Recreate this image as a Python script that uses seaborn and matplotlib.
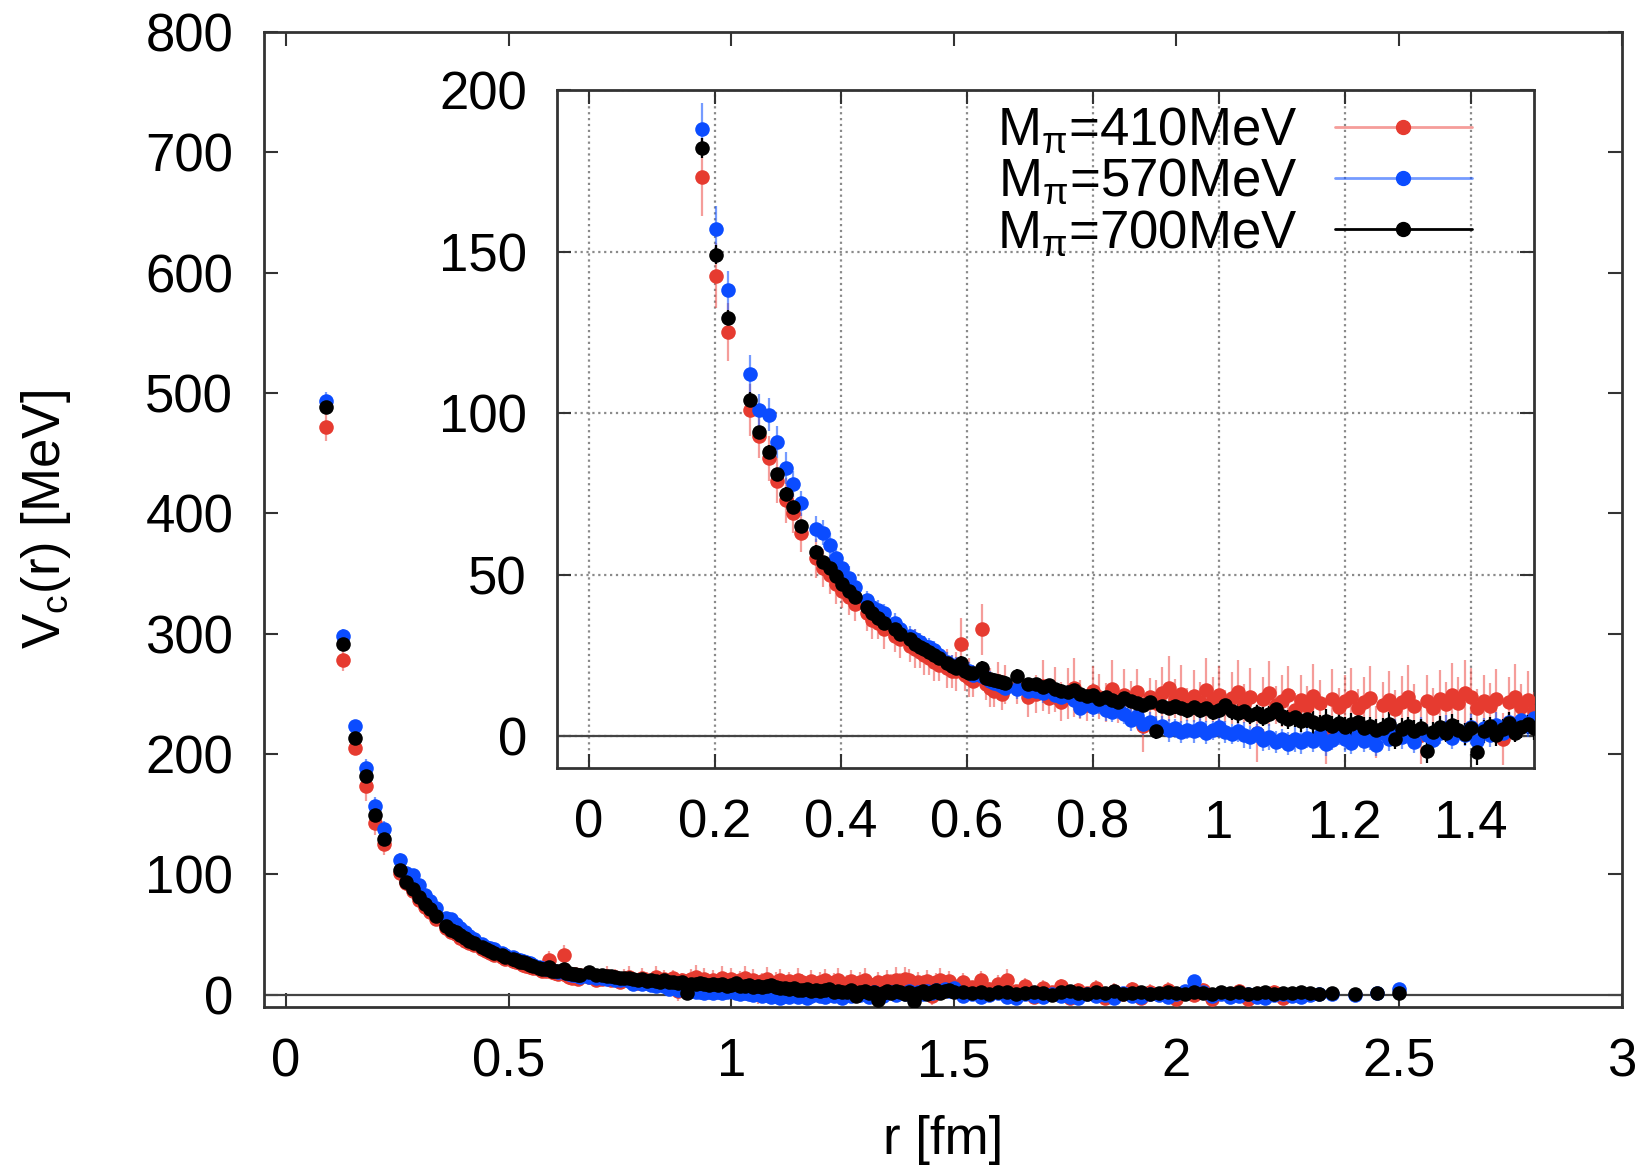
import matplotlib
matplotlib.use("Agg")
import matplotlib.pyplot as plt
import pandas as pd
import seaborn as sns
from matplotlib.lines import Line2D

# lattice distances r [fm] (short range part, shared by the three ensembles)
HEAD_R = [0.090, 0.127, 0.156, 0.180, 0.201, 0.220, 0.255, 0.270, 0.285, 0.298,
          0.312, 0.324, 0.337, 0.360, 0.371, 0.382, 0.392, 0.402, 0.412, 0.422,
          0.441, 0.450, 0.459, 0.468, 0.485, 0.493, 0.509, 0.517, 0.525, 0.532,
          0.540, 0.547, 0.555, 0.569, 0.576, 0.583, 0.590, 0.597, 0.604, 0.610,
          0.624, 0.630, 0.636, 0.643, 0.649, 0.655, 0.661, 0.680, 0.697]

# long range part
TAIL_R = [0.71, 0.72, 0.73, 0.74, 0.75, 0.76, 0.77, 0.78, 0.79, 0.80,
          0.81, 0.82, 0.83, 0.84, 0.85, 0.86, 0.87, 0.88, 0.89, 0.90,
          0.91, 0.92, 0.93, 0.94, 0.95, 0.96, 0.97, 0.98, 0.99, 1.00,
          1.01, 1.02, 1.03, 1.04, 1.05, 1.06, 1.07, 1.08, 1.09, 1.10,
          1.11, 1.12, 1.13, 1.14, 1.15, 1.16, 1.17, 1.18, 1.19, 1.20,
          1.21, 1.22, 1.23, 1.24, 1.25, 1.26, 1.27, 1.28, 1.29, 1.30,
          1.31, 1.32, 1.33, 1.34, 1.35, 1.36, 1.37, 1.38, 1.39, 1.40,
          1.41, 1.42, 1.43, 1.44, 1.45, 1.46, 1.47, 1.48, 1.49, 1.50,
          1.52, 1.54, 1.56, 1.58, 1.60, 1.62, 1.64, 1.66, 1.68, 1.70,
          1.72, 1.74, 1.76, 1.78, 1.80, 1.82, 1.84, 1.86, 1.88, 1.90,
          1.92, 1.94, 1.96, 1.98, 2.00, 2.02, 2.04, 2.06, 2.08, 2.10,
          2.12, 2.14, 2.16, 2.18, 2.20, 2.22, 2.24, 2.26, 2.28, 2.30,
          2.32, 2.35, 2.40, 2.45, 2.50]

# M_pi = 700 MeV (black)
V700_HEAD = [488, 291, 213, 182, 149, 129.5, 104, 94, 88, 81,
             75, 71, 65, 57, 54, 52, 49.5, 47, 45, 43,
             40, 38, 36.5, 35, 33, 31.5, 30, 28.5, 27.5, 26.8,
             26, 25, 24, 22.5, 21.7, 21, 22.7, 20, 19.5, 19.6,
             21.2, 18, 17.6, 17.2, 17, 16.7, 16.5, 18.6, 16]
E700_HEAD = [5, 4, 3, 3, 3, 2.5, 2.5, 2, 2, 2,
             2, 2, 2, 2, 1.5, 1.5, 1.5, 1.5, 1.5, 1.5,
             1.5, 1.5, 1.5, 1.5, 1.5, 1.5, 1.5, 1.5, 1.5, 1.5,
             1.5, 1.5, 1.5, 1.5, 1.5, 1.5, 2, 1.5, 1.5, 1.5,
             2, 1.5, 1.5, 1.5, 1.5, 1.5, 1.5, 2, 1.5]
V700_TAIL = [16.0, 15.2, 15.8, 14.6, 14.0, 13.5, 14.2, 13.0, 12.4, 12.8,
             11.6, 12.0, 11.2, 10.5, 11.8, 10.8, 10.2, 9.6, 10.4, 1.5,
             9.2, 8.6, 9.4, 8.8, 8.2, 9.0, 8.0, 8.6, 7.4, 8.2,
             9.5, 7.6, 7.0, 7.8, 6.6, 7.2, 6.0, 6.8, 8.4, 6.2,
             5.2, 5.8, 4.6, 5.4, 4.2, 3.6, 4.8, 3.2, 4.0, 2.8,
             3.6, 4.4, 2.4, 3.0, 1.8, 2.6, 3.8, -1.0, 2.2, 3.0,
             1.6, 2.4, -4.5, 1.2, 2.8, 1.0, 3.4, 2.0, 0.6, 2.6,
             -5.0, 1.4, 3.0, 0.4, 2.2, 4.0, 1.0, 2.8, 3.6, 2.4,
             2.0, 1.2, 2.6, 0.8, 1.8, 2.4, 0.4, 1.6, 2.2, 1.0,
             -0.6, 1.8, 2.8, 1.2, 0.6, 2.0, 1.4, 3.0, 0.8, 1.6,
             2.4, 0.2, 1.2, 2.0, 1.6, 0.6, 2.6, 1.4, 0.8, 2.0,
             1.0, 1.8, 0.4, 1.4, 2.2, 0.8, 1.6, 1.0, 2.0, 1.2,
             0.6, 1.4, 0.8, 1.2, 1.6]
E700_TAIL = [1.5, 1.5, 2.0, 1.5, 2.0, 1.5, 2.0, 1.5, 2.0, 2.0,
             2.0, 2.0, 2.0, 2.0, 2.0, 2.0, 2.0, 2.0, 2.0, 2.5,
             2.0, 2.0, 2.5, 2.0, 2.5, 2.0, 2.5, 2.0, 2.5, 2.5,
             2.5, 2.5, 3.0, 2.5, 3.0, 2.5, 3.0, 2.5, 3.0, 3.0,
             3.0, 3.0, 3.5, 3.0, 3.5, 3.0, 3.5, 3.0, 3.5, 3.0,
             3.5, 3.0, 3.5, 3.0, 3.5, 3.0, 3.5, 3.0, 3.5, 3.0,
             3.5, 3.0, 4.0, 3.0, 3.5, 3.0, 3.5, 3.0, 3.5, 3.0,
             4.0, 3.5, 3.0, 3.5, 3.0, 3.5, 3.0, 3.5, 3.0, 3.5,
             3.0, 3.5, 3.0, 3.5, 3.0, 3.5, 3.0, 3.5, 3.0, 3.5,
             3.0, 3.5, 3.0, 3.5, 3.0, 3.5, 3.0, 3.5, 3.0, 3.5,
             3.0, 3.5, 3.0, 3.5, 3.0, 3.5, 3.0, 3.5, 3.0, 3.5,
             3.0, 3.5, 3.0, 3.5, 3.0, 3.5, 3.0, 3.5, 3.0, 3.5,
             3.0, 2.5, 2.5, 3.0, 3.0]

# M_pi = 570 MeV (blue)
V570_HEAD = [493, 298, 223, 188, 157, 138, 112, 101, 99.5, 91,
             83, 78, 72, 64, 63, 59, 55, 52, 49, 46,
             42, 40, 39, 38, 35, 33, 31, 30, 29, 28,
             27.5, 26.5, 25, 23, 22, 21.5, 21, 20.5, 20, 19,
             18.5, 18, 17, 16.5, 16, 15.5, 15, 14.5, 14]
E570_HEAD = [8, 6, 5, 8, 7, 6, 6, 5, 5, 5,
             5, 4, 4, 4, 4, 4, 3.5, 3.5, 3.5, 3.5,
             3, 3, 3, 3, 3, 3, 3, 3, 3, 3,
             3, 3, 3, 3, 3, 3, 3, 3, 3, 3,
             3, 3, 3, 3, 3, 3, 3, 3, 3]
V570_TAIL = [14.0, 13.2, 14.4, 12.6, 12.0, 12.8, 11.2, 8.6, 10.4, 9.0,
             9.8, 8.2, 7.4, 8.8, 6.8, 5.0, 6.2, 3.8, 4.4, 2.6,
             3.2, 1.8, 2.4, 1.2, 2.0, 1.4, 2.6, 1.0, 1.8, 2.8,
             1.2, 0.6, 1.6, 0.4, -0.4, 0.8, -1.2, -0.2, -1.8, -0.8,
             -2.4, -1.0, -2.0, -0.6, -1.6, 0.2, -2.6, -1.2, 0.6, -0.8,
             -2.2, 0.4, -1.4, -0.2, -2.8, 0.8, -1.0, 1.4, -0.4, 0.6,
             -1.8, 1.8, 0.2, -1.2, 1.0, 2.4, -0.6, 1.6, 0.4, 2.8,
             -1.4, 2.6, 0.2, 3.4, 1.0, 4.2, 2.0, 5.0, 3.2, 5.6,
             -1.0, 0.6, -2.0, -0.4, 1.2, -1.6, -2.6, 0.2, -1.2, -2.2,
             0.8, -0.8, -1.8, -2.8, 0.4, -1.4, -0.2, -2.4, 1.0, -1.0,
             -1.8, 0.2, -0.6, -2.0, 0.8, 3.0, 11.0, 2.4, -1.2, 0.4,
             -2.2, -0.8, 0.6, -1.6, -2.8, -0.4, 0.8, -1.2, -2.0, -0.6,
             0.4, 0.2, -0.6, 1.0, 4.6]
E570_TAIL = [2.5, 3.0, 2.5, 3.0, 2.5, 3.0, 2.5, 3.0, 3.0, 3.0,
             3.0, 3.5, 3.0, 3.5, 3.0, 3.5, 3.0, 3.5, 3.0, 3.5,
             3.0, 3.5, 3.0, 3.5, 3.0, 3.5, 3.0, 3.5, 3.0, 3.5,
             3.5, 3.0, 3.5, 4.0, 3.5, 3.0, 3.5, 4.0, 3.5, 3.0,
             3.5, 4.0, 3.5, 3.0, 3.5, 4.0, 3.5, 3.0, 3.5, 4.0,
             3.5, 3.0, 3.5, 4.0, 3.5, 3.0, 3.5, 4.0, 3.5, 3.0,
             3.5, 4.0, 3.5, 3.0, 3.5, 4.0, 3.5, 3.0, 3.5, 4.0,
             3.5, 3.0, 3.5, 4.0, 3.5, 3.0, 3.5, 4.0, 3.5, 3.0,
             3.5, 4.0, 3.5, 4.0, 3.5, 4.0, 3.5, 4.0, 3.5, 4.0,
             3.5, 4.0, 3.5, 4.0, 3.5, 4.0, 3.5, 4.0, 3.5, 4.0,
             3.5, 4.0, 3.5, 4.0, 3.5, 4.0, 4.0, 4.0, 3.5, 4.0,
             3.5, 4.0, 3.5, 4.0, 3.5, 4.0, 3.5, 4.0, 3.5, 4.0,
             3.5, 4.0, 4.0, 4.5, 5.0]

# M_pi = 410 MeV (red), ends around r = 2.3 fm
V410_HEAD = [472, 278, 205, 173, 142.5, 125, 101, 93, 86, 79,
             73, 69, 63, 55, 52, 50, 47, 45, 43, 41,
             38, 36, 35, 33, 31, 30, 28, 27, 26, 25,
             24, 23, 22, 21, 20, 20, 28.4, 19, 18, 17,
             33, 16, 15, 14, 17, 13, 16, 15, 12]
E410_HEAD = [12, 9, 4, 12, 10, 9, 8, 7, 7, 7,
             7, 6, 6, 6, 6, 6, 6, 5.5, 5.5, 5.5,
             5.5, 6, 5, 6, 5, 6, 5, 6, 5, 6,
             5, 6, 5, 6, 5, 6, 8, 5, 6, 5,
             8, 5, 6, 5, 6, 5, 6, 5, 6]
V410_TAIL = [13.0, 15.6, 11.8, 14.4, 10.6, 13.2, 15.0, 11.4, 9.6, 13.8,
             12.2, 10.4, 14.6, 9.0, 12.8, 11.0, 13.6, 3.0, 12.0, 10.2,
             13.4, 14.8, 11.6, 13.0, 9.8, 12.4, 10.6, 14.2, 11.2, 12.8,
             9.4, 11.8, 13.6, 10.0, 12.2, 1.0, 11.4, 13.2, 9.6, 10.8,
             12.6, 8.2, 11.0, 9.4, 12.4, 10.2, -0.6, 11.6, 9.0, 10.8,
             12.2, 8.6, 10.4, 11.8, 1.2, 9.6, 11.2, 8.4, 10.6, 12.0,
             9.2, 0.4, 10.8, 8.8, 11.4, 9.8, 12.6, 10.2, 13.4, 12.0,
             8.6, 10.8, 9.4, 11.6, -1.0, 10.4, 12.2, 9.0, 11.0, 7.6,
             10.6, 6.2, 11.8, 4.4, 9.2, 12.4, 3.0, 7.6, -1.6, 5.8,
             2.2, 6.8, -2.4, 4.0, 1.2, 5.4, -3.0, 3.4, 0.6, 4.8,
             -2.8, 2.6, 0.2, 4.2, -3.2, 1.8, -0.6, 3.6, -3.4, 1.4,
             -1.2, 2.8, -3.6, 0.8, -2.0, 2.0, -3.0, 0.4, -1.4]
E410_TAIL = [6, 8, 5, 7, 6, 8, 9, 6, 5, 8,
             7, 6, 9, 5, 8, 6, 7, 8, 6, 7,
             8, 10, 6, 9, 5, 8, 6, 10, 7, 9,
             5, 8, 10, 6, 9, 9, 7, 10, 6, 8,
             9, 5, 8, 6, 10, 7, 8, 9, 6, 8,
             9, 6, 8, 10, 8, 7, 9, 6, 8, 10,
             7, 9, 8, 6, 9, 7, 10, 8, 10, 9,
             6, 8, 7, 9, 8, 8, 10, 7, 9, 6,
             7, 5, 8, 6, 7, 9, 5, 6, 5, 6,
             5, 6, 5, 6, 5, 7, 5, 6, 5, 6,
             5, 6, 5, 6, 5, 6, 5, 6, 5, 6,
             5, 6, 5, 6, 5, 6, 5, 6, 5]

LABELS = ["M$_{\\pi}$=410MeV", "M$_{\\pi}$=570MeV", "M$_{\\pi}$=700MeV"]
MAIN_XTICKS = [0, 0.5, 1, 1.5, 2, 2.5, 3]
MAIN_XLABELS = ["0", "0.5", "1", "1.5", "2", "2.5", "3"]
MAIN_YTICKS = [0, 100, 200, 300, 400, 500, 600, 700, 800]
INSET_XTICKS = [0, 0.2, 0.4, 0.6, 0.8, 1.0, 1.2, 1.4]
INSET_XLABELS = ["0", "0.2", "0.4", "0.6", "0.8", "1", "1.2", "1.4"]
INSET_YTICKS = [0, 50, 100, 150, 200]

RED, RED_BAR = "#e63b30", (0.93, 0.30, 0.28, 0.55)
BLUE, BLUE_BAR = "#0b4cff", (0.10, 0.35, 1.00, 0.60)
BLACK, BLACK_BAR = "#000000", (0.0, 0.0, 0.0, 1.0)

FS = 38

sns.set_style("ticks")
plt.rcParams["font.family"] = ["Liberation Sans", "DejaVu Sans"]
plt.rcParams["mathtext.fontset"] = "custom"
plt.rcParams["mathtext.rm"] = "Liberation Sans"
plt.rcParams["mathtext.it"] = "Liberation Sans"
plt.rcParams["mathtext.bf"] = "Liberation Sans"
plt.rcParams["text.color"] = "black"
plt.rcParams["axes.labelcolor"] = "black"

series = [
    (pd.DataFrame({"r": HEAD_R + TAIL_R[:len(V410_TAIL)], "v": V410_HEAD + V410_TAIL,
                   "err": E410_HEAD + E410_TAIL}), RED, RED_BAR),
    (pd.DataFrame({"r": HEAD_R + TAIL_R, "v": V570_HEAD + V570_TAIL,
                   "err": E570_HEAD + E570_TAIL}), BLUE, BLUE_BAR),
    (pd.DataFrame({"r": HEAD_R + TAIL_R, "v": V700_HEAD + V700_TAIL,
                   "err": E700_HEAD + E700_TAIL}), BLACK, BLACK_BAR),
]


def draw_points(ax):
    for df, col, bar in series:
        ax.errorbar(df["r"], df["v"], yerr=df["err"], fmt="none", ecolor=bar,
                    elinewidth=1.6, capsize=0, zorder=3)
        sns.scatterplot(data=df, x="r", y="v", color=col, s=110, linewidth=0,
                        ax=ax, zorder=4, legend=False)
    ax.axhline(0, color="#444444", lw=1.6, zorder=2)


def style_axes(ax):
    ax.tick_params(direction="in", length=10, width=1.5, top=True, right=True,
                   labelsize=FS, pad=22, color="#333333", labelcolor="black")
    for sp in ax.spines.values():
        sp.set_linewidth(2.0)
        sp.set_color("#333333")
    ax.set_xlabel("")
    ax.set_ylabel("")


fig = plt.figure(figsize=(16.41, 11.68), dpi=100)
ax = fig.add_axes([0.1607, 0.1381, 0.8275, 0.8345])
draw_points(ax)
style_axes(ax)
ax.set_xlim(-0.05, 3)
ax.set_ylim(-10, 800)
ax.set_xticks(MAIN_XTICKS)
ax.set_xticklabels(MAIN_XLABELS)
ax.set_yticks(MAIN_YTICKS)
ax.set_xlabel("r [fm]", fontsize=FS, labelpad=20)
ax.set_ylabel("V$_{\\mathrm{c}}$(r) [MeV]", fontsize=FS, labelpad=52)

axin = fig.add_axes([0.3397, 0.3422, 0.5951, 0.5807])
axin.set_facecolor("white")
axin.grid(True, linestyle=":", color="#8a8a8a", lw=1.6)
axin.set_axisbelow(True)
draw_points(axin)
style_axes(axin)
axin.set_xlim(-0.05, 1.5)
axin.set_ylim(-10, 200)
axin.set_xticks(INSET_XTICKS)
axin.set_xticklabels(INSET_XLABELS)
axin.set_yticks(INSET_YTICKS)

handles = [Line2D([0], [0], color=bar, lw=2, marker="o", ms=10, mfc=col, mec=col)
           for _, col, bar in series]
axin.legend(handles, LABELS, loc="upper right", bbox_to_anchor=(1472 / 1641, 1 - 106 / 1168),
            bbox_transform=fig.transFigure, frameon=False, markerfirst=False,
            handlelength=2.6, handletextpad=0.7, labelspacing=0.02, borderpad=0,
            borderaxespad=0, fontsize=FS)

fig.savefig("out.png", dpi=100)
